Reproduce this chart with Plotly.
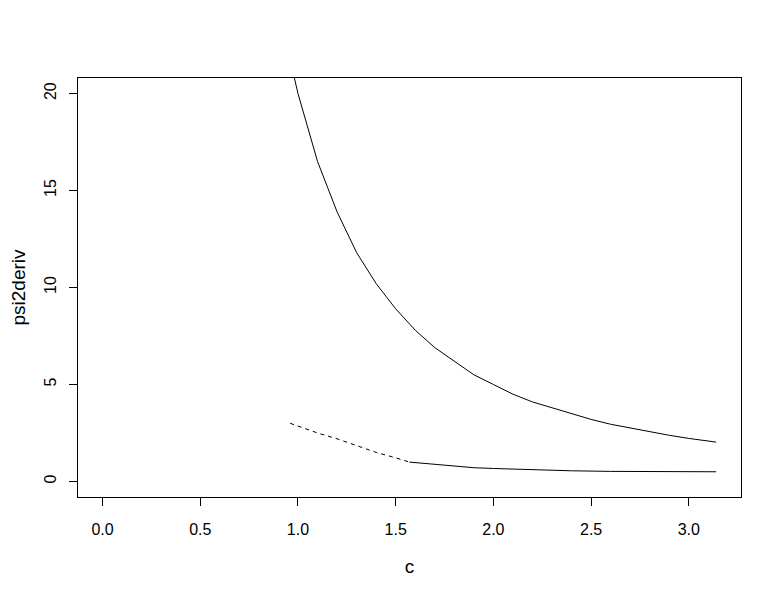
import plotly.graph_objects as go

# Upper curve (solid)
c_upper = [0.97, 1.0, 1.1, 1.2, 1.3, 1.4, 1.5, 1.6, 1.7, 1.8, 1.9, 2.0, 2.1, 2.2,
           2.3, 2.4, 2.5, 2.6, 2.7, 2.8, 2.9, 3.0, 3.14]
psi_upper = [21.3, 20.0, 16.5, 13.9, 11.8, 10.2, 8.9, 7.8, 6.9, 6.2, 5.5, 5.0, 4.5, 4.1,
             3.8, 3.5, 3.2, 2.95, 2.75, 2.55, 2.38, 2.22, 2.03]

# Lower curve, dashed part
c_lower_dash = [0.96, 1.1, 1.2, 1.3, 1.4, 1.5, 1.57]
psi_lower_dash = [3.0, 2.5, 2.2, 1.85, 1.5, 1.22, 1.0]

# Lower curve, solid part
c_lower_solid = [1.57, 1.7, 1.8, 1.9, 2.0, 2.2, 2.4, 2.6, 2.8, 3.0, 3.14]
psi_lower_solid = [1.0, 0.88, 0.79, 0.71, 0.67, 0.6, 0.55, 0.52, 0.51, 0.5, 0.5]

x_ticks = [0.0, 0.5, 1.0, 1.5, 2.0, 2.5, 3.0]
x_ticklabels = ["0.0", "0.5", "1.0", "1.5", "2.0", "2.5", "3.0"]
y_ticks = [0, 5, 10, 15, 20]

fig = go.Figure()
fig.add_trace(go.Scatter(x=c_upper, y=psi_upper, mode="lines",
                         line=dict(color="black", width=1), showlegend=False))
fig.add_trace(go.Scatter(x=c_lower_dash, y=psi_lower_dash, mode="lines",
                         line=dict(color="black", width=1, dash="4px,4px"), showlegend=False))
fig.add_trace(go.Scatter(x=c_lower_solid, y=psi_lower_solid, mode="lines",
                         line=dict(color="black", width=1), showlegend=False))

font = dict(family="Liberation Sans, Arial, sans-serif", size=16, color="black")
fig.update_layout(
    width=773, height=588,
    margin=dict(l=70, r=40, t=70, b=99),
    paper_bgcolor="white", plot_bgcolor="white",
    font=font,
    xaxis=dict(range=[-0.1257, 3.267], tickvals=x_ticks, ticktext=x_ticklabels,
               showgrid=False, zeroline=False, showline=True, mirror=True,
               linecolor="black", linewidth=1, ticks="outside", ticklen=8,
               tickcolor="black", tickwidth=1, ticklabelstandoff=10,
               automargin=False,
               title=dict(text="c", standoff=22)),
    yaxis=dict(range=[-0.8, 20.8], tickvals=y_ticks,
               showgrid=False, zeroline=False, showline=True, mirror=True,
               linecolor="black", linewidth=1, ticks="outside", ticklen=8,
               tickcolor="black", tickwidth=1, tickangle=-90, ticklabelstandoff=7,
               automargin=False,
               title=dict(text="psi2deriv", standoff=23)),
)
fig.write_html("out.html")
